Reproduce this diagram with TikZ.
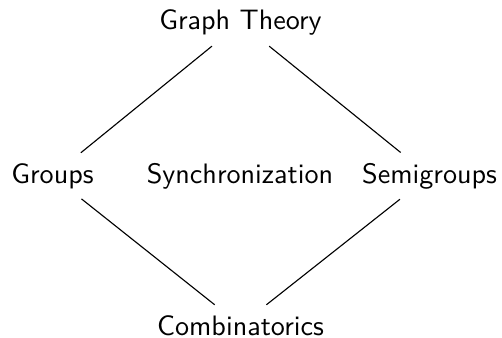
\documentclass[tikz,border=0pt]{standalone}
\usepackage{tikz}
\usetikzlibrary{positioning}

\begin{document}
\begin{tikzpicture}[
	topic/.style={font=\sffamily, inner sep=3.5pt, anchor=base},
	link/.style={thin, black}
	]
	\useasboundingbox (0,0) rectangle (6.275,-4.225);
	\node[topic] (gt) at (3.006,-0.375) {Graph Theory};
	\node[topic] (grp) at (0.656,-2.288) {Groups};
	\node[topic] (syn) at (3.0,-2.288) {Synchronization};
	\node[topic] (sgr) at (5.369,-2.288) {Semigroups};
	\node[topic] (cmb) at (3.006,-4.188) {Combinatorics};
	\draw[link] (gt) -- (grp);
	\draw[link] (gt) -- (sgr);
	\draw[link] (grp) -- (cmb);
	\draw[link] (sgr) -- (cmb);
\end{tikzpicture}
\end{document}
